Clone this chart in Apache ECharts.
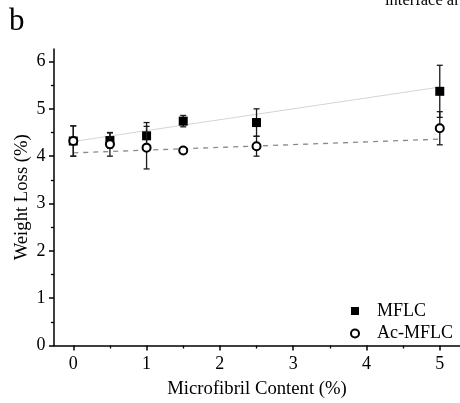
<!DOCTYPE html>
<html><head><meta charset="utf-8">
<script src="https://cdn.jsdelivr.net/npm/echarts@6/dist/echarts.min.js"></script>
<style>html,body{margin:0;padding:0;background:#fff}#c{width:460px;height:403px}</style>
</head><body><div id="c"></div>
<script>
const contents = [0, 0.5, 1, 1.5, 2.5, 5];
const mflc = [4.32, 4.33, 4.43, 4.74, 4.71, 5.37];
const mflcErr = [0.32, 0.16, 0.28, 0.12, 0.29, 0.55];
const acMflc = [4.32, 4.25, 4.18, 4.12, 4.21, 4.59];
const acMflcErr = [0.32, 0.25, 0.45, 0.03, 0.21, 0.35];
const fitX = [0, 5];
const fitMflc = [4.31, 5.46];
const fitAc = [4.07, 4.36];
const xTicks = [0, 1, 2, 3, 4, 5];
const xMinor = [0.5, 1.5, 2.5, 3.5, 4.5];
const yTicks = [0, 1, 2, 3, 4, 5, 6];
const yMinor = [0.5, 1.5, 2.5, 3.5, 4.5, 5.5];

const FONT = 'Liberation Serif';
const FS = 18;
const FT = 18.7;
const chart = echarts.init(document.getElementById('c'), null, {renderer: 'canvas'});

function errSeries(vals, errs, z) {
  return {
    type: 'custom', z: z, silent: true,
    data: contents.map((x, i) => [x, vals[i] - errs[i], vals[i] + errs[i]]),
    renderItem: function (params, api) {
      const lo = api.coord([api.value(0), api.value(1)]);
      const hi = api.coord([api.value(0), api.value(2)]);
      const w = 3;
      const st = {stroke: '#1a1a1a', lineWidth: 1.3};
      return {type: 'group', children: [
        {type: 'line', shape: {x1: lo[0], y1: lo[1], x2: hi[0], y2: hi[1]}, style: st},
        {type: 'line', shape: {x1: lo[0] - w, y1: lo[1], x2: lo[0] + w, y2: lo[1]}, style: st},
        {type: 'line', shape: {x1: hi[0] - w, y1: hi[1], x2: hi[0] + w, y2: hi[1]}, style: st}
      ]};
    }
  };
}

const axisBase = {
  type: 'value',
  splitLine: {show: false},
  axisLine: {show: true, onZero: false, lineStyle: {color: '#000', width: 1.5}},
};

chart.setOption({
  animation: false,
  grid: {left: 54, right: 0, top: 49, bottom: 57.5, containLabel: false, outerBoundsMode: 'none'},
  xAxis: [
    Object.assign({}, axisBase, {
      min: -0.263, max: 5.276, position: 'bottom',
      name: 'Microfibril Content (%)', nameLocation: 'middle', nameGap: 34,
      nameTextStyle: {fontFamily: FONT, fontSize: FT, color: '#000'},
      axisTick: {show: true, inside: false, length: 5, lineStyle: {color: '#000', width: 1.5}, customValues: xTicks},
      axisLabel: {fontFamily: FONT, fontSize: FS, color: '#000', margin: 10, customValues: xTicks}
    }),
    Object.assign({}, axisBase, {
      min: -0.263, max: 5.276, position: 'bottom',
      axisLine: {show: false, onZero: false},
      axisTick: {show: true, inside: false, length: 3, lineStyle: {color: '#000', width: 1.3}, customValues: xMinor},
      axisLabel: {show: false}
    })
  ],
  yAxis: [
    Object.assign({}, axisBase, {
      min: 0, max: 6.264, position: 'left',
      name: 'Weight Loss (%)', nameLocation: 'middle', nameGap: 22, nameMoveOverlap: false,
      nameTextStyle: {fontFamily: FONT, fontSize: FT, color: '#000'},
      axisTick: {show: true, inside: false, length: 5, lineStyle: {color: '#000', width: 1.5}, customValues: yTicks},
      axisLabel: {fontFamily: FONT, fontSize: FS, color: '#000', margin: 8.5, customValues: yTicks}
    }),
    Object.assign({}, axisBase, {
      min: 0, max: 6.264, position: 'left',
      axisLine: {show: false, onZero: false},
      axisTick: {show: true, inside: false, length: 3, lineStyle: {color: '#000', width: 1.3}, customValues: yMinor},
      axisLabel: {show: false}
    })
  ],
  legend: {
    orient: 'vertical', left: 345, top: 297, itemGap: 4.5,
    itemWidth: 8, itemHeight: 8,
    textStyle: {fontFamily: FONT, fontSize: FS, color: '#000', padding: [0, 0, 0, 13]},
    data: [
      {name: 'MFLC', icon: 'rect', itemStyle: {color: '#000', borderWidth: 0}},
      {name: 'Ac-MFLC', icon: 'circle', itemStyle: {color: '#fff', borderColor: '#000', borderWidth: 2}}
    ]
  },
  graphic: [
    {type: 'text', left: 9, top: 6, style: {text: 'b', fontFamily: FONT, fontSize: 31, fill: '#000'}},
    {type: 'text', x: 385, y: 9, style: {text: 'interface are', fontFamily: FONT, fontSize: 16.5, fill: '#000', textVerticalAlign: 'bottom'}}
  ],
  series: [
    {type: 'line', data: fitX.map((x, i) => [x, fitMflc[i]]), symbol: 'none', silent: true,
     lineStyle: {color: '#d4d4d4', width: 1}, z: 1},
    {type: 'line', data: fitX.map((x, i) => [x, fitAc[i]]), symbol: 'none', silent: true,
     lineStyle: {color: '#8a8a8a', width: 1.3, type: [5, 5]}, z: 1},
    errSeries(mflc, mflcErr, 2),
    {name: 'MFLC', type: 'scatter', data: contents.map((x, i) => [x, mflc[i]]),
     symbol: 'rect', symbolSize: 9, itemStyle: {color: '#000', opacity: 1}, z: 3},
    errSeries(acMflc, acMflcErr, 4),
    {name: 'Ac-MFLC', type: 'scatter', data: contents.map((x, i) => [x, acMflc[i]]),
     symbol: 'circle', symbolSize: 8, itemStyle: {color: '#fff', borderColor: '#000', borderWidth: 2, opacity: 1}, z: 5}
  ]
});
</script></body></html>
